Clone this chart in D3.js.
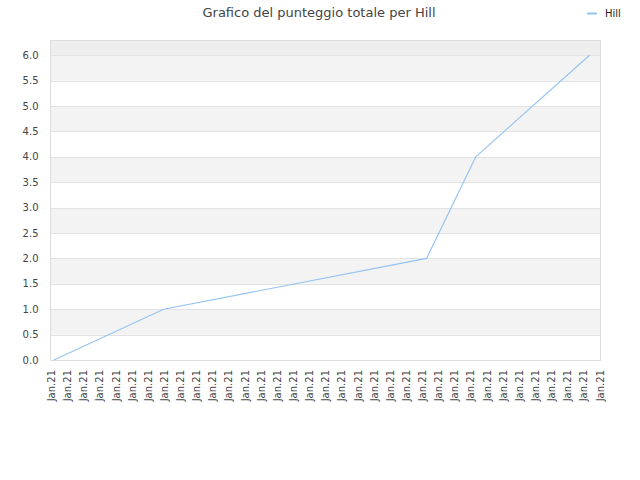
<!DOCTYPE html>
<html>
<head>
<meta charset="utf-8">
<script src="https://cdn.jsdelivr.net/npm/d3@7"></script>
<style>
  body { margin: 0; background: #fff; }
  svg { font-family: "DejaVu Sans", Verdana, sans-serif; }
</style>
</head>
<body>
<div id="container"></div>
<script>
// chart data
const tickLabels = Array(35).fill("Jan.21")
const pointPos = [0.15, 6.95, 23.25, 26.3, 33.35]   // position along the label axis
const scores = [0, 1, 2, 4, 6]
const yTicks = [0, 0.5, 1, 1.5, 2, 2.5, 3, 3.5, 4, 4.5, 5, 5.5, 6]
const seriesName = "Hill"
const title = "Grafico del punteggio totale per Hill"

main()

function main() {
    const width = 640
    const height = 480
    const marginTop = 40
    const marginRight = 40
    const marginBottom = 120
    const marginLeft = 50.5

    const svg = d3.select("#container").append("svg")
        .attr("width", width)
        .attr("height", height)

    const x = d3.scaleLinear()
        .domain([0, tickLabels.length - 1])
        .range([marginLeft + 1, width - marginRight])

    const y = d3.scaleLinear()
        .domain([0, 6.3])
        .range([height - marginBottom, marginTop])

    const left = marginLeft, right = width - marginRight + 0.5
    const top = marginTop, bottom = height - marginBottom

    // top band above the last tick
    svg.append("rect")
        .attr("x", left).attr("y", top)
        .attr("width", right - left).attr("height", y(6) - top)
        .attr("fill", "#eeeeee")

    // alternating bands
    for (let i = 0; i < yTicks.length - 1; i++) {
        svg.append("rect")
            .attr("x", left).attr("y", y(yTicks[i + 1]))
            .attr("width", right - left)
            .attr("height", y(yTicks[i]) - y(yTicks[i + 1]))
            .attr("fill", i % 2 === 1 ? "#f3f3f3" : "#ffffff")
    }

    // grid lines
    svg.append("g")
        .selectAll("line")
        .data(yTicks.slice(1))
        .join("line")
        .attr("x1", left).attr("x2", right)
        .attr("y1", d => Math.round(y(d)) + 0.5)
        .attr("y2", d => Math.round(y(d)) + 0.5)
        .attr("stroke", "#e2e2e2")

    // frame
    svg.append("rect")
        .attr("x", left).attr("y", top + 0.5)
        .attr("width", right - left).attr("height", bottom - top)
        .attr("fill", "none")
        .attr("stroke", "#dcdcdc")

    // y labels
    svg.append("g")
        .selectAll("text")
        .data(yTicks)
        .join("text")
        .attr("x", 38.5)
        .attr("y", d => y(d))
        .attr("dy", "0.35em")
        .attr("text-anchor", "end")
        .attr("fill", "#444")
        .style("font-size", "10px")
        .text(d => d.toFixed(1))

    // x labels
    svg.append("g")
        .selectAll("text")
        .data(tickLabels)
        .join("text")
        .attr("transform", (d, i) => `translate(${x(i) + 3.5},${bottom + 10}) rotate(-90)`)
        .attr("text-anchor", "end")
        .attr("fill", "#444")
        .style("font-size", "10px")
        .text(d => d)

    // score line
    const line = d3.line()
        .x(d => x(d[0]))
        .y(d => y(d[1]))

    svg.append("path")
        .datum(pointPos.map((p, i) => [p, scores[i]]))
        .attr("d", line)
        .attr("fill", "none")
        .attr("stroke", "#95c4f2")
        .attr("stroke-width", 1.2)

    // title
    svg.append("text")
        .attr("x", 319)
        .attr("y", 17)
        .attr("text-anchor", "middle")
        .attr("fill", "#444")
        .style("font-size", "13px")
        .text(title)

    // legend
    svg.append("line")
        .attr("x1", 587).attr("x2", 597)
        .attr("y1", 13.5).attr("y2", 13.5)
        .attr("stroke", "#95c4f2")
        .attr("stroke-width", 2)

    svg.append("text")
        .attr("x", 605)
        .attr("y", 13)
        .attr("dy", "0.35em")
        .attr("fill", "#222")
        .style("font-size", "10px")
        .text(seriesName)
}
</script>
</body>
</html>
